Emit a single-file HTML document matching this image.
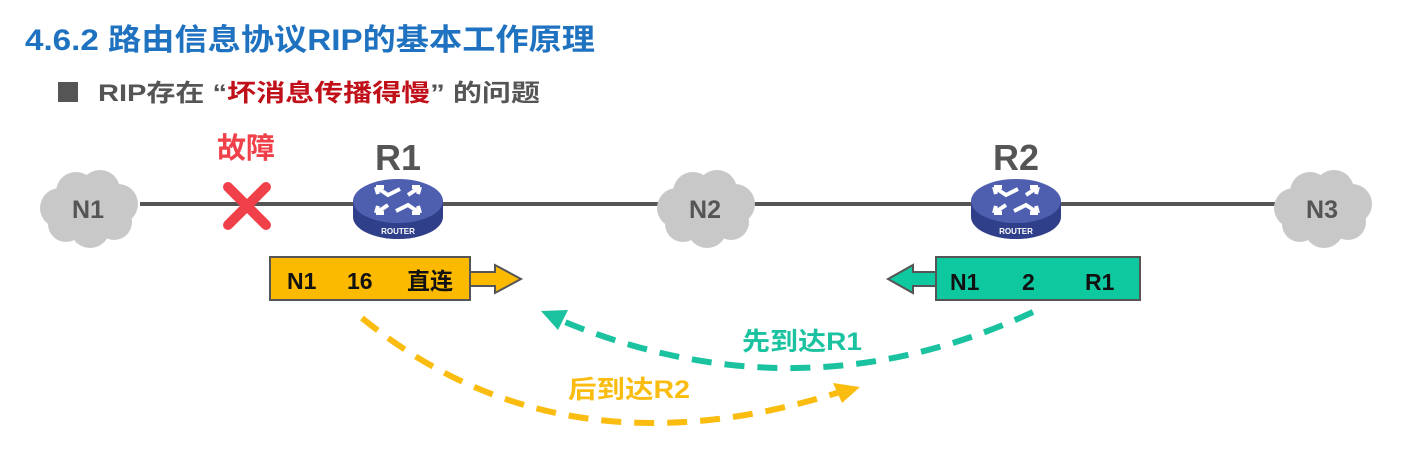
<!DOCTYPE html>
<html><head><meta charset="utf-8"><style>
html,body{margin:0;padding:0;background:#fff;}
body{width:1406px;height:452px;overflow:hidden;font-family:"Liberation Sans","Noto Sans CJK SC",sans-serif;}
</style></head><body>
<svg width="1406" height="452" xmlns="http://www.w3.org/2000/svg" font-family="Liberation Sans, Noto Sans CJK SC, sans-serif">
<defs>
<g id="cloud">
<circle cx="-28" cy="0" r="20"/><circle cx="-12" cy="-16" r="20"/><circle cx="12" cy="-18" r="20"/><circle cx="30" cy="-4" r="20"/><circle cx="26" cy="14" r="18"/><circle cx="2" cy="20" r="20"/><circle cx="-22" cy="16" r="18"/><circle cx="0" cy="0" r="26"/>
</g>
<g id="router">
<path d="M-45,0 L-45,16 A45,22 0 0 0 45,16 L45,0 Z" fill="#2f3f8a"/>
<ellipse cx="0" cy="0" rx="45" ry="22" fill="#4f5fb0"/>
<g stroke="#fff" stroke-width="4" fill="none">
<path d="M-22,-14 L-10,-6 L2,-12 M-22,-14 l8,0 M-22,-14 l2,7"/>
<path d="M22,-14 L10,-6 M22,-14 l-8,0 M22,-14 l-2,7"/>
<path d="M-22,12 L-10,4 M-22,12 l8,0 M-22,12 l2,-7"/>
<path d="M22,12 L10,4 L-2,10 M22,12 l-8,0 M22,12 l-2,-7"/>
</g>
<text x="0" y="33" font-size="8" fill="#fff" font-weight="bold" text-anchor="middle">ROUTER</text>
</g>
</defs>
<text x="25" y="50" font-size="30" font-weight="bold" fill="#1f72c0" textLength="570" lengthAdjust="spacingAndGlyphs">4.6.2 路由信息协议RIP的基本工作原理</text>
<rect x="58" y="82" width="20" height="20" fill="#555"/>
<text x="98" y="101" font-size="24" font-weight="bold" fill="#555" textLength="442" lengthAdjust="spacingAndGlyphs">RIP存在 “<tspan fill="#c0101a">坏消息传播得慢</tspan>” 的问题</text>

<line x1="140" y1="204" x2="1275" y2="204" stroke="#555" stroke-width="4"/>
<g fill="#c8c8c8"><use href="#cloud" x="88" y="208"/><use href="#cloud" x="705" y="208"/><use href="#cloud" x="1322" y="208"/></g>
<g font-size="25" font-weight="bold" fill="#555" text-anchor="middle">
<text x="88" y="218">N1</text><text x="705" y="218">N2</text><text x="1322" y="218">N3</text>
<text x="398" y="170" font-size="36">R1</text><text x="1016" y="170" font-size="36">R2</text>
</g>
<text x="246" y="158" font-size="29" font-weight="bold" fill="#f0414b" text-anchor="middle">故障</text>
<g stroke="#f0414b" stroke-width="10" stroke-linecap="round"><line x1="228" y1="187" x2="266" y2="225"/><line x1="266" y1="187" x2="228" y2="225"/></g>
<use href="#router" x="398" y="201"/>
<use href="#router" x="1016" y="201"/>

<rect x="270" y="257" width="200" height="43" fill="#fbb900" stroke="#555" stroke-width="2"/>
<path d="M471,272 L495,272 L495,265 L521,279 L495,293 L495,286 L471,286" fill="#fbb900" stroke="#555" stroke-width="2"/>
<g font-size="23" font-weight="bold" fill="#111"><text x="287" y="289">N1</text><text x="347" y="289">16</text><text x="407" y="289">直连</text></g>

<rect x="936" y="257" width="204" height="43" fill="#0ec8a0" stroke="#555" stroke-width="2"/>
<path d="M935,272 L913,272 L913,265 L888,279 L913,293 L913,286 L935,286" fill="#0ec8a0" stroke="#555" stroke-width="2"/>
<g font-size="23" font-weight="bold" fill="#111"><text x="950" y="290">N1</text><text x="1022" y="290">2</text><text x="1085" y="290">R1</text></g>

<path d="M1033,312 Q800,420 560,320" fill="none" stroke="#1ac2a0" stroke-width="6" stroke-dasharray="20,13"/>
<path d="M541,311 L568,310 L558,330 Z" fill="#1ac2a0"/>
<path d="M362,318 Q560,480 840,392" fill="none" stroke="#fbbc10" stroke-width="6" stroke-dasharray="20,13"/>
<path d="M860,387 L833,383 L842,403 Z" fill="#fbbc10"/>
<text x="742" y="350" font-size="25" font-weight="bold" fill="#1ac2a0" textLength="120" lengthAdjust="spacingAndGlyphs">先到达R1</text>
<text x="568" y="398" font-size="25" font-weight="bold" fill="#fbbc10" textLength="122" lengthAdjust="spacingAndGlyphs">后到达R2</text>
</svg>
</body></html>
